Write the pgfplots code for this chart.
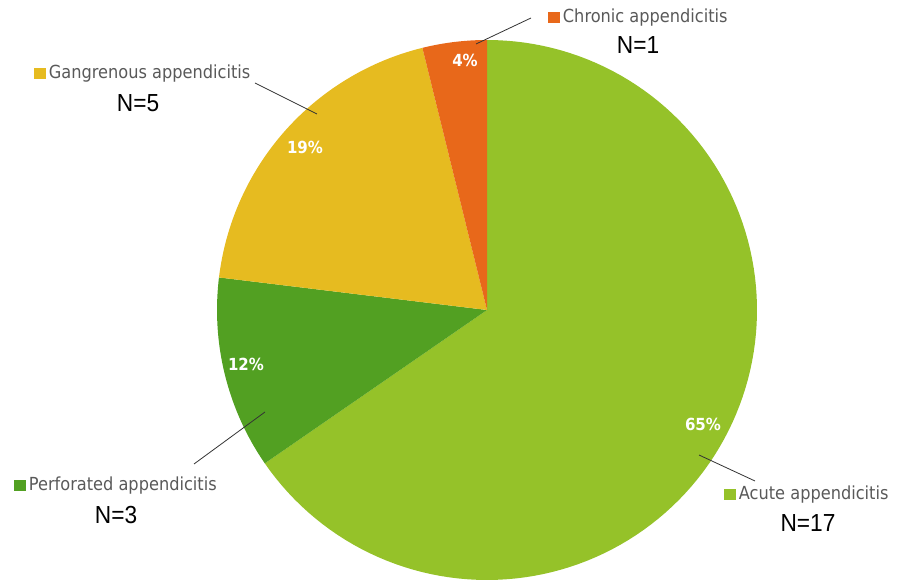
\documentclass[border=0pt]{standalone}
\usepackage{fontspec}
\setmainfont{DejaVu Sans}
\newfontfamily\lab{DejaVu Sans Condensed}
\newfontfamily\nfont{Liberation Sans}[FakeStretch=0.92]
\usepackage{pgfplots}
\pgfplotsset{compat=1.18}
\definecolor{acute}{HTML}{95C229}
\definecolor{perf}{HTML}{52A022}
\definecolor{gang}{HTML}{E6BB20}
\definecolor{chron}{HTML}{E8681A}
\definecolor{labgray}{HTML}{595959}
% counts
\def\nAcute{17}
\def\nPerf{3}
\def\nGang{5}
\def\nChron{1}
\pgfmathsetmacro{\tot}{\nAcute+\nPerf+\nGang+\nChron}
\pgfmathsetmacro{\aA}{90-360*\nAcute/\tot}
\pgfmathsetmacro{\aP}{\aA-360*\nPerf/\tot}
\pgfmathsetmacro{\aG}{\aP-360*\nGang/\tot}
\pgfmathsetmacro{\aC}{\aG-360*\nChron/\tot}
\newcommand{\sq}[1]{\textcolor{#1}{\rule[-0.3pt]{8.5pt}{8.5pt}}\kern2.5pt}
\begin{document}
\begin{tikzpicture}
\begin{axis}[width=674.25pt,height=435pt,scale only axis,
  xmin=0,xmax=899,ymin=0,ymax=580,axis lines=none,clip=false]
\path (axis cs:0,0) rectangle (axis cs:899,580);
\addplot[fill=acute,draw=none,domain=\aA:90,samples=120,variable=\t]
  ({487+270*cos(\t)},{270+270*sin(\t)}) -- (axis cs:487,270) -- cycle;
\addplot[fill=perf,draw=none,domain=\aP:\aA,samples=40,variable=\t]
  ({487+270*cos(\t)},{270+270*sin(\t)}) -- (axis cs:487,270) -- cycle;
\addplot[fill=gang,draw=none,domain=\aG:\aP,samples=60,variable=\t]
  ({487+270*cos(\t)},{270+270*sin(\t)}) -- (axis cs:487,270) -- cycle;
\addplot[fill=chron,draw=none,domain=\aC:\aG,samples=20,variable=\t]
  ({487+270*cos(\t)},{270+270*sin(\t)}) -- (axis cs:487,270) -- cycle;
% percentages
\begin{scope}[every node/.style={text=white,font=\lab\bfseries\fontsize{12.5pt}{14pt}\selectfont}]
\node at (axis cs:465,520) {4\%};
\node at (axis cs:305,433) {19\%};
\node at (axis cs:246,216) {12\%};
\node at (axis cs:703,156) {65\%};
\end{scope}
% leader lines
\draw[black!80,line width=0.6pt] (axis cs:476,536) -- (axis cs:531,562);
\draw[black!80,line width=0.6pt] (axis cs:255,497) -- (axis cs:317,466);
\draw[black!80,line width=0.6pt] (axis cs:194,116) -- (axis cs:265,168);
\draw[black!80,line width=0.6pt] (axis cs:699,125) -- (axis cs:755,99);
% labels
\begin{scope}[every node/.style={text=labgray,font=\lab\fontsize{13.5pt}{15pt}\selectfont,anchor=west,inner sep=0pt}]
\node at (axis cs:548,562) {\sq{chron}Chronic appendicitis};
\node at (axis cs:34,506) {\sq{gang}Gangrenous appendicitis};
\node at (axis cs:14,94) {\sq{perf}Perforated appendicitis};
\node at (axis cs:724,85) {\sq{acute}Acute appendicitis};
\end{scope}
\begin{scope}[every node/.style={text=black,font=\nfont\fontsize{18.5pt}{20pt}\selectfont,inner sep=0pt}]
\node at (axis cs:638,535) {N=1};
\node at (axis cs:138,477) {N=5};
\node at (axis cs:116,65) {N=3};
\node at (axis cs:808,57) {N=17};
\end{scope}
\end{axis}
\end{tikzpicture}
\end{document}
